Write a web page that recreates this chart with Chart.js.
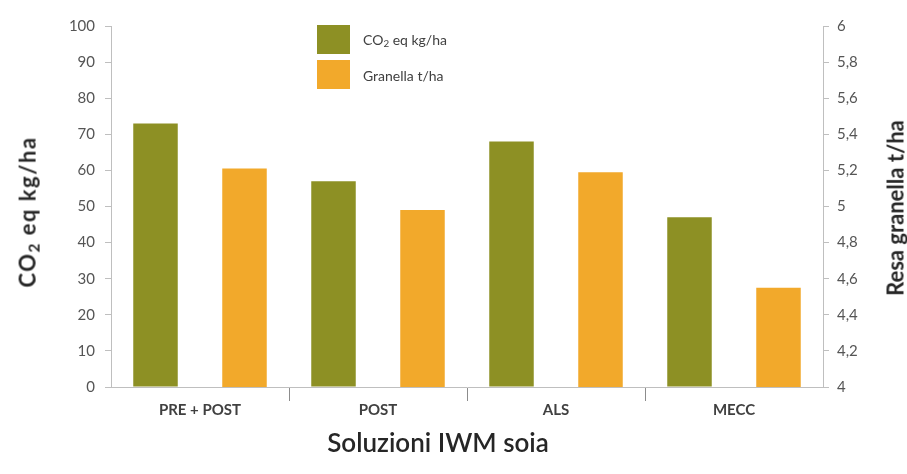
<!DOCTYPE html>
<html lang="it">
<head>
<meta charset="utf-8">
<script src="https://cdn.jsdelivr.net/npm/chart.js@4.4.1/dist/chart.umd.min.js"></script>
<style>
  html, body { margin: 0; padding: 0; background: #ffffff; }
  #wrap { position: relative; width: 907px; height: 474px; font-family: Lato, "Open Sans", sans-serif; }
  #chart { position: absolute; left: 0; top: 0; }
  .rot { position: absolute; white-space: nowrap; transform: translate(-50%, -50%) rotate(-90deg); font-weight: bold; color: #262626; font-size: 22px; }
  #yLeftTitle { letter-spacing: 1.5px; }
  #xTitle { position: absolute; left: 438px; top: 442px; transform: translate(-50%, -50%); white-space: nowrap; font-size: 26px; color: #262626; font-weight: 600; }
  #legend { position: absolute; left: 317px; top: 25px; }
  .item { position: relative; height: 35px; }
  .sw { position: absolute; left: 0; top: 0; width: 33px; height: 29px; }
  .lab { position: absolute; left: 46px; top: 15px; transform: translateY(-50%); white-space: nowrap; font-size: 14px; color: #404040; }
  sub { font-size: 0.7em; vertical-align: -0.25em; }
</style>
</head>
<body>
<div id="wrap">
  <canvas id="chart" width="907" height="474"></canvas>
  <div class="rot" id="yLeftTitle" style="left:28px; top:212px;">CO<sub>2</sub> eq kg/ha</div>
  <div class="rot" id="yRightTitle" style="left:895px; top:208px;">Resa granella t/ha</div>
  <div id="xTitle">Soluzioni IWM soia</div>
  <div id="legend"></div>
</div>
<script>
// Soybean IWM solutions: CO2 emissions and grain yield
const categories = ['PRE + POST', 'POST', 'ALS', 'MECC'];
const co2Values = [73, 57, 68, 47];          // CO2 eq kg/ha (left axis)
const yieldValues = [5.21, 4.98, 5.19, 4.55]; // grain t/ha (right axis)
const leftTicks = ['0', '10', '20', '30', '40', '50', '60', '70', '80', '90', '100'];
const rightTicks = ['4', '4,2', '4,4', '4,6', '4,8', '5', '5,2', '5,4', '5,6', '5,8', '6'];
const seriesLabels = ['CO<sub>2</sub> eq kg/ha', 'Granella t/ha'];
const seriesColors = ['#8d9024', '#f2a92b'];

const tickFont = { family: 'Lato, "Open Sans", sans-serif', size: 15 };
const axisColor = '#bfbfbf';

const chart = new Chart(document.getElementById('chart'), {
  type: 'bar',
  data: {
    labels: categories,
    datasets: [
      { label: 'CO2 eq kg/ha', data: co2Values, backgroundColor: seriesColors[0], yAxisID: 'y' },
      { label: 'Granella t/ha', data: yieldValues, backgroundColor: seriesColors[1], yAxisID: 'y1' }
    ]
  },
  options: {
    responsive: false,
    animation: false,
    devicePixelRatio: 1,
    layout: { padding: { top: 26, left: 0, right: 0, bottom: 0 } },
    datasets: { bar: { barPercentage: 0.5, categoryPercentage: 1.0 } },
    plugins: { legend: { display: false }, tooltip: { enabled: false } },
    scales: {
      x: {
        offset: true,
        afterFit(s) { s.height = 87; },
        border: { color: axisColor, width: 1 },
        grid: {
          offset: true,
          drawOnChartArea: false,
          drawTicks: true,
          tickLength: 14,
          color: ctx => (ctx.type === 'tick' && ctx.index > 0) ? '#8c8c8c' : 'rgba(0,0,0,0)'
        },
        ticks: { color: '#404040', font: { family: tickFont.family, size: 15, weight: 'bold' }, padding: 0 }
      },
      y: {
        position: 'left',
        min: 0, max: 100,
        afterFit(s) { s.width = 111; },
        border: { color: axisColor, width: 1 },
        grid: { drawOnChartArea: false, tickLength: 6, color: axisColor },
        ticks: { stepSize: 10, color: '#555555', font: tickFont, padding: 10,
                 callback: (v, i) => leftTicks[i] }
      },
      y1: {
        position: 'right',
        min: 4, max: 6,
        afterFit(s) { s.width = 84; },
        border: { color: axisColor, width: 1 },
        grid: { drawOnChartArea: false, tickLength: 6, color: axisColor },
        ticks: { stepSize: 0.2, color: '#555555', font: tickFont, padding: 8,
                 callback: (v, i) => rightTicks[i] }
      }
    }
  }
});

// Legend built from the chart's own datasets
const legend = document.getElementById('legend');
chart.data.datasets.forEach((ds, i) => {
  const item = document.createElement('div');
  item.className = 'item';
  item.innerHTML = '<div class="sw" style="background:' + ds.backgroundColor + '"></div>' +
                   '<div class="lab">' + seriesLabels[i] + '</div>';
  legend.appendChild(item);
});
</script>
</body>
</html>
